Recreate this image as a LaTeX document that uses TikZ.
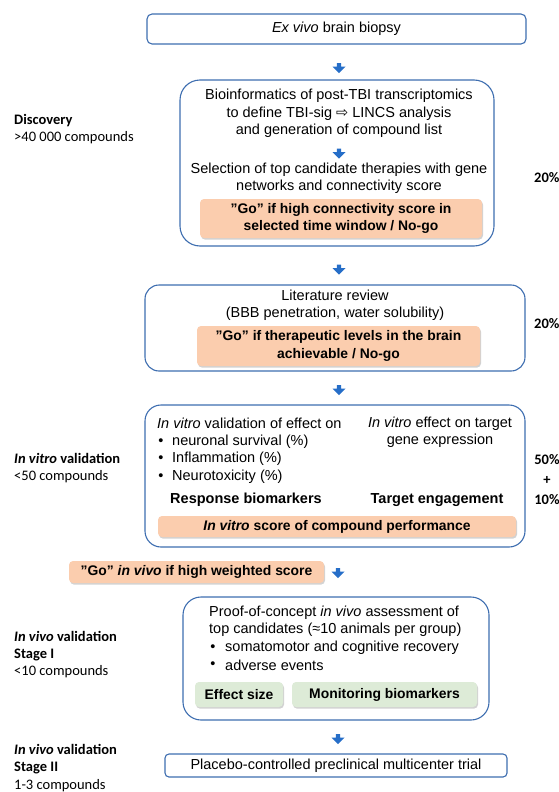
\documentclass[tikz,border=0pt]{standalone}
\usepackage{fontspec}
\setmainfont{Liberation Sans}
\newfontfamily\calib{Carlito}
\newfontfamily\symb{DejaVu Sans}
\usetikzlibrary{shapes.arrows,shadows}
\definecolor{boxblue}{RGB}{62,110,176}
\definecolor{arrowblue}{RGB}{38,110,200}
\definecolor{gofill}{RGB}{251,205,174}
\definecolor{markfill}{RGB}{221,235,215}
\newcommand{\boxfont}{\fontsize{14.5}{17.4}\selectfont}
\newcommand{\gofont}{\fontsize{13.9}{17.4}\selectfont\bfseries}
\tikzset{
  stagebox/.style={draw=boxblue, line width=1.1pt, fill=white, rounded corners=#1},
  gobox/.style={fill=gofill, rounded corners=4pt, font=\gofont, align=center,
    drop shadow={shadow xshift=1pt, shadow yshift=-1.6pt, opacity=0.35}},
  markbox/.style={fill=markfill, rounded corners=4pt, font=\gofont,
    drop shadow={shadow xshift=1pt, shadow yshift=-1.6pt, opacity=0.35}},
  downarr/.style={single arrow, fill=arrowblue, draw=none, shape border rotate=270,
    minimum height=10pt, minimum width=13pt, single arrow head extend=3.5pt, inner sep=1.6pt},
  sidelabel/.style={font=\calib\fontsize{14.5}{17.4}\selectfont, anchor=west, align=left},
  pct/.style={font=\calib\bfseries\fontsize{14.5}{20}\selectfont, align=center}
}

\begin{document}
\begin{tikzpicture}[x=1pt,y=-1pt,font=\boxfont,inner sep=0pt]
  \useasboundingbox (0,0) rectangle (559,792);%

  % biopsy
  \node[stagebox=5pt, minimum width=379pt, minimum height=30pt] (biopsy) at (336.5,29) {\textit{Ex vivo} brain biopsy};%
  \node[downarr] (arr1) at (339,67) {};%

  {% discovery
    \node[stagebox=20pt, minimum width=314pt, minimum height=166pt] (disc) at (337,163) {};%
    \node[align=center] (bioinf) at (339,113.5) {Bioinformatics of post-TBI transcriptomics\\
      to define TBI-sig {\symb ⇨} LINCS analysis\\and generation of compound list};%
    \node[downarr] (arr1b) at (339,152.5) {};%
    \node[align=center] (select) at (339,178) {Selection of top candidate therapies with gene\\
      networks and connectivity score};%
    \node[gobox, minimum width=282pt, minimum height=39pt] (go1) at (341,218.5) {”Go” if high connectivity score in\\
      selected time window / No-go};%
    \node[sidelabel] (discl) at (14,129) {\textbf{Discovery}\\>40 000 compounds};%
    \node[pct, anchor=west] (pct1) at (534,178) {20\%};%
  }
  \node[downarr] (arr2) at (339,268.5) {};%

  {% literature
    \node[stagebox=14pt, minimum width=380pt, minimum height=86pt] (lit) at (335,328) {};%
    \node[align=center] (litrev) at (335,305.5) {Literature review\\(BBB penetration, water solubility)};%
    \node[gobox, minimum width=283pt, minimum height=40pt] (go2) at (338.5,346) {”Go” if therapeutic levels in the brain\\
      achievable / No-go};%
    \node[pct, anchor=west] (pct2) at (534,324) {20\%};%
  }
  \node[downarr] (arr3) at (339,389) {};%

  {% in vitro
    \node[stagebox=16pt, minimum width=380pt, minimum height=142pt] (vitro) at (335,476) {};%
    \node[anchor=west] (effect) at (157,423) {\textit{In vitro} validation of effect on};%
    \foreach \y/\t [count=\i] in {442/neuronal survival (\%), 459/Inflammation (\%), 477/Neurotoxicity (\%)}
    {
      \node (bul\i) at (161,\y) {\textbullet};%
      \node[anchor=west] (item\i) at (172,\y) {\t};%
    }
    \node[align=center] (target) at (440,432.5) {\textit{In vitro} effect on target\\gene expression};%
    \node[font=\boxfont\bfseries] (resp) at (246,500) {Response biomarkers};%
    \node[font=\boxfont\bfseries] (engage) at (437,500) {Target engagement};%
    \node[gobox, minimum width=358pt, minimum height=21pt] (score) at (337,526.5) {\textit{In vitro} score of compound performance};%
    \node[sidelabel] (vitrol) at (14,468) {\textbf{\textit{In vitro} validation}\\<50 compounds};%
    \node[pct] (pct3) at (547,480) {50\%\\+\\10\%};%
  }
  \node[gobox, minimum width=255pt, minimum height=22pt] (go3) at (196.5,572) {”Go” \textit{in vivo} if high weighted score};%
  \node[downarr] (arr4) at (338,572) {};%

  {% stage I
    \node[stagebox=18pt, minimum width=306pt, minimum height=123pt] (stage1) at (336,658.5) {};%
    \node[anchor=west, align=left] (proof) at (209,621.5) {Proof-of-concept \textit{in vivo} assessment of\\
      top candidates (≈10 animals per group)};%
    \foreach \y/\t [count=\i] in {648/somatomotor and cognitive recovery, 665/adverse events}
    {
      \node (vbul\i) at (213,\y) {\textbullet};%
      \node[anchor=west] (vitem\i) at (225,\y) {\t};%
    }
    \node[markbox, minimum width=88pt, minimum height=25pt] (esize) at (239,694.5) {Effect size};%
    \node[markbox, minimum width=185pt, minimum height=25pt] (monitor) at (384.5,694.5) {Monitoring biomarkers};%
    \node[sidelabel] (stage1l) at (14,654.5) {\textbf{\textit{In vivo} validation}\\\textbf{Stage I}\\<10 compounds};%
  }
  \node[downarr] (arr5) at (338,738) {};%

  {% stage II
    \node[stagebox=4pt, minimum width=342pt, minimum height=23pt] (stage2) at (336,765.5) {Placebo-controlled preclinical multicenter trial};%
    \node[sidelabel] (stage2l) at (14,768) {\textbf{\textit{In vivo} validation}\\\textbf{Stage II}\\1-3 compounds};%
  }
\end{tikzpicture}
\end{document}
